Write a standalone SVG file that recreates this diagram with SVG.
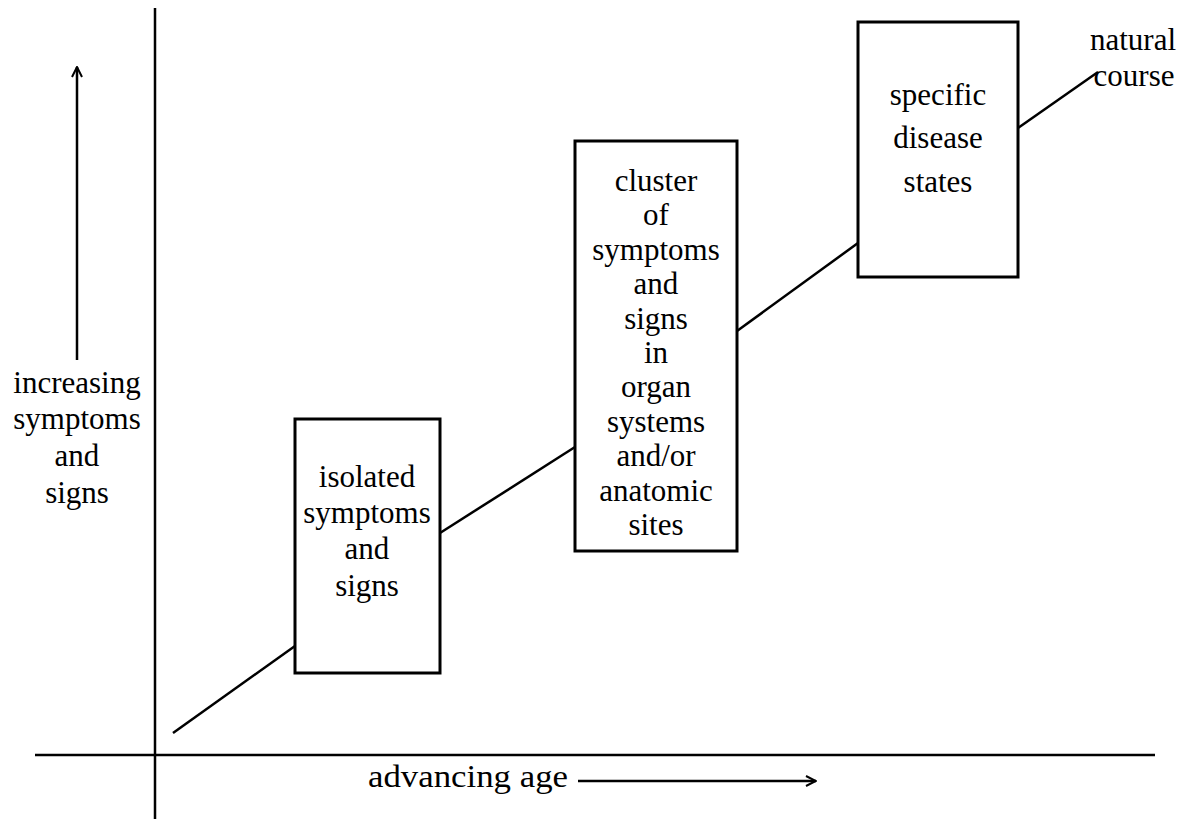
<svg xmlns="http://www.w3.org/2000/svg" width="1180" height="819" viewBox="0 0 1180 819">
<style>
text{font-family:"Liberation Serif","Times New Roman",serif;font-size:31px;fill:#000;text-anchor:middle}
.ln{stroke:#000;stroke-width:2.5;fill:none}
.box{stroke:#000;stroke-width:3;fill:#fff}
</style>
<defs>
<marker id="ah" viewBox="0 0 12 12" refX="11" refY="6" markerWidth="12" markerHeight="12" markerUnits="userSpaceOnUse" orient="auto">
<path d="M1,1 L11,6 L1,11" fill="none" stroke="#000" stroke-width="2"/>
</marker>
</defs>
<rect width="1180" height="819" fill="#fff"/>
<g id="axes">
<line class="ln" x1="155" y1="8" x2="155" y2="819"/>
<line class="ln" x1="35" y1="755" x2="1155" y2="755"/>
<line class="ln" x1="77" y1="360" x2="77" y2="67" marker-end="url(#ah)"/>
<line class="ln" x1="578" y1="781" x2="816" y2="781" marker-end="url(#ah)"/>
</g>
<g id="connectors">
<line class="ln" x1="173" y1="733" x2="295" y2="646"/>
<line class="ln" x1="440" y1="533" x2="575" y2="447"/>
<line class="ln" x1="737" y1="331" x2="858" y2="243"/>
<line class="ln" x1="1018" y1="128" x2="1098" y2="72"/>
</g>
<g id="yLabel">
<text x="77" y="393">increasing</text>
<text x="77" y="429">symptoms</text>
<text x="77" y="466">and</text>
<text x="77" y="503">signs</text>
</g>
<g id="xLabel">
<text x="468" y="787" textLength="200" lengthAdjust="spacingAndGlyphs">advancing age</text>
</g>
<g id="box1">
<rect class="box" x="295" y="419" width="145" height="254"/>
<text x="367" y="487">isolated</text>
<text x="367" y="523">symptoms</text>
<text x="367" y="559">and</text>
<text x="367" y="596">signs</text>
</g>
<g id="box2">
<rect class="box" x="575" y="141" width="162" height="410"/>
<text x="656" y="191">cluster</text>
<text x="656" y="225">of</text>
<text x="656" y="260">symptoms</text>
<text x="656" y="294">and</text>
<text x="656" y="329">signs</text>
<text x="656" y="363">in</text>
<text x="656" y="397">organ</text>
<text x="656" y="432">systems</text>
<text x="656" y="466">and/or</text>
<text x="656" y="501">anatomic</text>
<text x="656" y="535">sites</text>
</g>
<g id="box3">
<rect class="box" x="858" y="22" width="160" height="255"/>
<text x="938" y="105">specific</text>
<text x="938" y="148">disease</text>
<text x="938" y="192">states</text>
</g>
<g id="natural">
<text x="1133" y="50">natural</text>
<text x="1134" y="86">course</text>
</g>
</svg>
